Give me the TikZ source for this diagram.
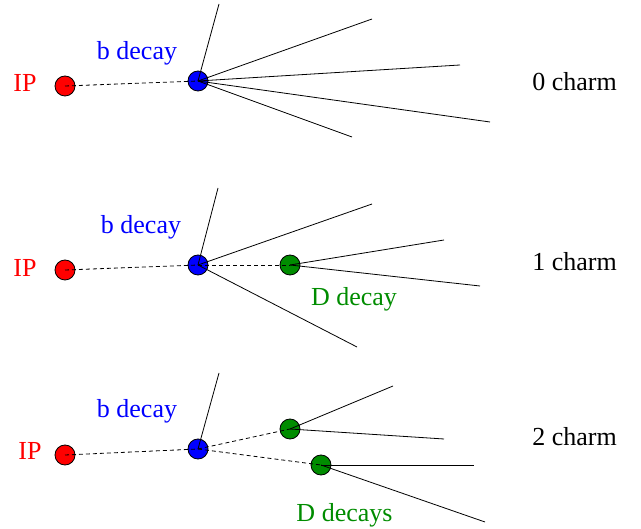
\documentclass[tikz,border=0pt]{standalone}
\usepackage{fontspec}
\setmainfont{Liberation Serif}
\definecolor{dgreen}{RGB}{0,140,0}
\begin{document}
\begin{tikzpicture}[x=1pt,y=-1pt,
  vtx/.style={circle,draw=black,line width=0.8pt,minimum size=20pt,inner sep=0pt},
  ipv/.style={vtx,fill=red},
  bv/.style={vtx,fill=blue},
  dv/.style={vtx,fill=dgreen},
  trk/.style={line width=0.8pt},
  flight/.style={line width=0.8pt,dash pattern=on 4pt off 3pt},
  lbl/.style={font=\fontsize{26}{30}\selectfont,inner sep=0pt,anchor=base}]
\useasboundingbox (0,0) rectangle (641,529);
% ---------- panel 1 ----------
\node[ipv] (ip1) at (65,86) {};
\node[bv] (b1) at (198,81) {};
\coordinate (t1a) at (219,4);
\coordinate (t1b) at (372,19);
\coordinate (t1c) at (460,65);
\coordinate (t1d) at (490,122);
\coordinate (t1e) at (352,137);
\draw[flight] (ip1.center) -- (b1.center);
\foreach \t in {t1a,t1b,t1c,t1d,t1e} \draw[trk] (b1.center) -- (\t);
\node[lbl,text=red] (iplab1) at (25,92) {IP};
\node[lbl,text=blue] (blab1) at (137,60) {b decay};
\node[lbl] (c0) at (574.5,91) {0 charm};
% ---------- panel 2 ----------
\node[ipv] (ip2) at (65,270) {};
\node[bv] (b2) at (198,265) {};
\node[dv] (d2) at (290,265) {};
\coordinate (t2a) at (218,188);
\coordinate (t2b) at (372,204);
\coordinate (t2c) at (357,347);
\coordinate (t2d) at (444,240);
\coordinate (t2e) at (480,286);
\draw[flight] (ip2.center) -- (b2.center);
\draw[flight] (b2.center) -- (d2.center);
\foreach \t in {t2a,t2b,t2c} \draw[trk] (b2.center) -- (\t);
\foreach \t in {t2d,t2e} \draw[trk] (d2.center) -- (\t);
\node[lbl,text=red] (iplab2) at (25,277) {IP};
\node[lbl,text=blue] (blab2) at (141,234) {b decay};
\node[lbl,text=dgreen] (dlab2) at (354,306) {D decay};
\node[lbl] (c1) at (574.5,271) {1 charm};
% ---------- panel 3 ----------
\node[ipv] (ip3) at (65,455) {};
\node[bv] (b3) at (198,449) {};
\node[dv] (d3a) at (290,429) {};
\node[dv] (d3b) at (321,465) {};
\coordinate (t3a) at (219,373);
\coordinate (t3b) at (393,386);
\coordinate (t3c) at (444,439);
\coordinate (t3d) at (474,465);
\coordinate (t3e) at (485,522);
\draw[flight] (ip3.center) -- (b3.center);
\draw[flight] (b3.center) -- (d3a.center);
\draw[flight] (b3.center) -- (d3b.center);
\draw[trk] (b3.center) -- (t3a);
\foreach \t in {t3b,t3c} \draw[trk] (d3a.center) -- (\t);
\foreach \t in {t3d,t3e} \draw[trk] (d3b.center) -- (\t);
\node[lbl,text=red] (iplab3) at (30,460) {IP};
\node[lbl,text=blue] (blab3) at (137,418) {b decay};
\node[lbl,text=dgreen] (dlab3) at (344.5,522) {D decays};
\node[lbl] (c2) at (574.5,446) {2 charm};
\end{tikzpicture}
\end{document}
